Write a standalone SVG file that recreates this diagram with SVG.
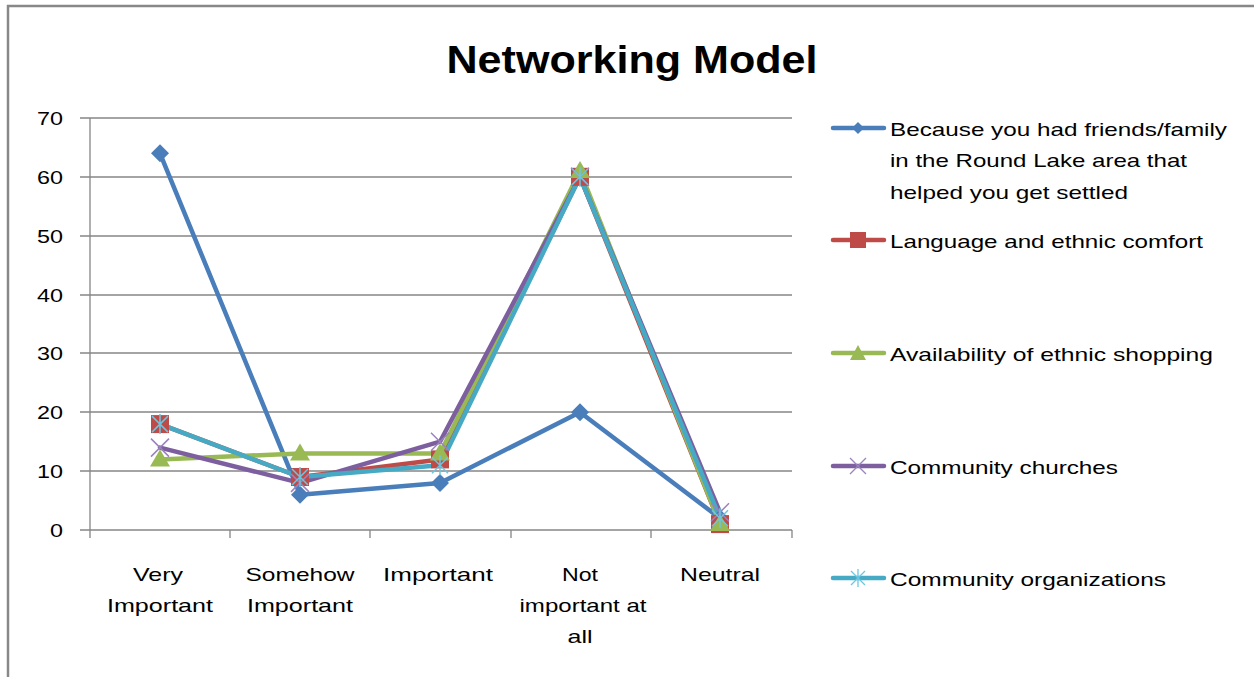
<svg xmlns="http://www.w3.org/2000/svg" width="1254" height="677" viewBox="0 0 1254 677">
<style>
.t{font-family:"Liberation Sans",Arial,sans-serif;font-size:19px;fill:#000}
.grid{stroke:#868686;stroke-width:1.3;fill:none}
.s{fill:none;stroke-width:4.5;stroke-linejoin:round;stroke-linecap:round}
</style>
<defs>
<path id="dia" d="M0,-9 L9,0 L0,9 L-9,0Z" fill="#4A7EBB"/>
<rect id="sq" x="-9" y="-9" width="18" height="18" fill="#BE4B48"/>
<path id="tri" d="M0,-10 L10,7 L-10,7Z" fill="#98B954"/>
<path id="xm" d="M-9,-9 L9,9 M-9,9 L9,-9" stroke="#9A83BE" stroke-width="1.5" fill="none"/>
<path id="ast" d="M-8,-8 L8,8 M-8,8 L8,-8 M0,-10 L0,10" stroke="#6CC6E0" stroke-width="1.5" fill="none"/>
</defs>
<rect x="8" y="6" width="1260" height="690" fill="#fff" stroke="#888" stroke-width="2.5"/>
<text class="t" x="632" y="73" text-anchor="middle" style="font-size:38px;font-weight:bold" textLength="371" lengthAdjust="spacingAndGlyphs">Networking Model</text>
<g id="axes">
<path class="grid" d="M80,118H792M80,177H792M80,236H792M80,295H792M80,353H792M80,412H792M80,471H792M80,530H792M90,118V538M230,530V538M370,530V538M511,530V538M651,530V538M792,530V538"/>
<g text-anchor="end">
<text class="t" x="63" y="125" textLength="26" lengthAdjust="spacingAndGlyphs">70</text>
<text class="t" x="63" y="184" textLength="26" lengthAdjust="spacingAndGlyphs">60</text>
<text class="t" x="63" y="243" textLength="26" lengthAdjust="spacingAndGlyphs">50</text>
<text class="t" x="63" y="302" textLength="26" lengthAdjust="spacingAndGlyphs">40</text>
<text class="t" x="63" y="360" textLength="26" lengthAdjust="spacingAndGlyphs">30</text>
<text class="t" x="63" y="419" textLength="26" lengthAdjust="spacingAndGlyphs">20</text>
<text class="t" x="63" y="478" textLength="26" lengthAdjust="spacingAndGlyphs">10</text>
<text class="t" x="63" y="537" textLength="13" lengthAdjust="spacingAndGlyphs">0</text>
</g>
<g text-anchor="middle">
<text class="t" x="158" y="581" textLength="50" lengthAdjust="spacingAndGlyphs">Very</text>
<text class="t" x="160" y="612" textLength="106" lengthAdjust="spacingAndGlyphs">Important</text>
<text class="t" x="300" y="581" textLength="109" lengthAdjust="spacingAndGlyphs">Somehow</text>
<text class="t" x="300" y="612" textLength="106" lengthAdjust="spacingAndGlyphs">Important</text>
<text class="t" x="438" y="581" textLength="110" lengthAdjust="spacingAndGlyphs">Important</text>
<text class="t" x="580" y="581" textLength="36" lengthAdjust="spacingAndGlyphs">Not</text>
<text class="t" x="583" y="612" textLength="127" lengthAdjust="spacingAndGlyphs">important at</text>
<text class="t" x="580" y="643" textLength="25" lengthAdjust="spacingAndGlyphs">all</text>
<text class="t" x="720" y="581" textLength="80" lengthAdjust="spacingAndGlyphs">Neutral</text>
</g>
</g>
<g id="connectors">
<polyline class="s" stroke="#4A7EBB" points="160,153.3 300,494.7 440,482.9 580,412.3 720,518.2"/>
<polyline class="s" stroke="#BE4B48" points="160,424.1 300,477 440,459.4 580,176.8 720,524.1"/>
<polyline class="s" stroke="#98B954" points="160,459.4 300,453.5 440,453.5 580,170.9 720,524.1"/>
<polyline class="s" stroke="#7D5FA0" points="160,447.6 300,482.9 440,441.7 580,176.8 720,512.3"/>
<polyline class="s" stroke="#46AAC5" points="160,424.1 300,477 440,465.3 580,176.8 720,518.2"/>
</g>
<g id="series1"><use href="#dia" x="160" y="153.3"/><use href="#dia" x="300" y="494.7"/><use href="#dia" x="440" y="482.9"/><use href="#dia" x="580" y="412.3"/><use href="#dia" x="720" y="518.2"/></g>
<g id="series2"><use href="#sq" x="160" y="424.1"/><use href="#sq" x="300" y="477"/><use href="#sq" x="440" y="459.4"/><use href="#sq" x="580" y="176.8"/><use href="#sq" x="720" y="524.1"/></g>
<g id="series3"><use href="#tri" x="160" y="459.4"/><use href="#tri" x="300" y="453.5"/><use href="#tri" x="440" y="453.5"/><use href="#tri" x="580" y="170.9"/><use href="#tri" x="720" y="524.1"/></g>
<g id="series4"><use href="#xm" x="160" y="447.6"/><use href="#xm" x="300" y="482.9"/><use href="#xm" x="440" y="441.7"/><use href="#xm" x="580" y="176.8"/><use href="#xm" x="720" y="512.3"/></g>
<g id="series5"><use href="#ast" x="160" y="424.1"/><use href="#ast" x="300" y="477"/><use href="#ast" x="440" y="465.3"/><use href="#ast" x="580" y="176.8"/><use href="#ast" x="720" y="518.2"/></g>
<g id="legend">
<g id="leg1"><line class="s" stroke="#4A7EBB" x1="833" y1="128" x2="884" y2="128"/><path d="M858,122 L864,128 L858,134 L852,128Z" fill="#4A7EBB"/>
<text class="t" x="890" y="136" textLength="337" lengthAdjust="spacingAndGlyphs">Because you had friends/family</text>
<text class="t" x="890" y="167" textLength="297" lengthAdjust="spacingAndGlyphs">in the Round Lake area that</text>
<text class="t" x="890" y="199" textLength="238" lengthAdjust="spacingAndGlyphs">helped you get settled</text></g>
<g id="leg2"><line class="s" stroke="#BE4B48" x1="833" y1="240" x2="884" y2="240"/><rect x="850" y="232" width="16" height="16" fill="#BE4B48"/>
<text class="t" x="890" y="248" textLength="313" lengthAdjust="spacingAndGlyphs">Language and ethnic comfort</text></g>
<g id="leg3"><line class="s" stroke="#98B954" x1="833" y1="353" x2="884" y2="353"/><path d="M858,345 L866,360 L850,360Z" fill="#98B954"/>
<text class="t" x="890" y="361" textLength="323" lengthAdjust="spacingAndGlyphs">Availability of ethnic shopping</text></g>
<g id="leg4"><line class="s" stroke="#7D5FA0" x1="833" y1="466" x2="884" y2="466"/><path d="M850,458 L866,474 M850,474 L866,458" stroke="#9A83BE" stroke-width="1.3"/>
<text class="t" x="890" y="474" textLength="228" lengthAdjust="spacingAndGlyphs">Community churches</text></g>
<g id="leg5"><line class="s" stroke="#46AAC5" x1="833" y1="578" x2="884" y2="578"/><path d="M851,571 L865,585 M851,585 L865,571 M858,569 L858,587" stroke="#6CC6E0" stroke-width="1.3"/>
<text class="t" x="890" y="586" textLength="276" lengthAdjust="spacingAndGlyphs">Community organizations</text></g>
</g>
</svg>
